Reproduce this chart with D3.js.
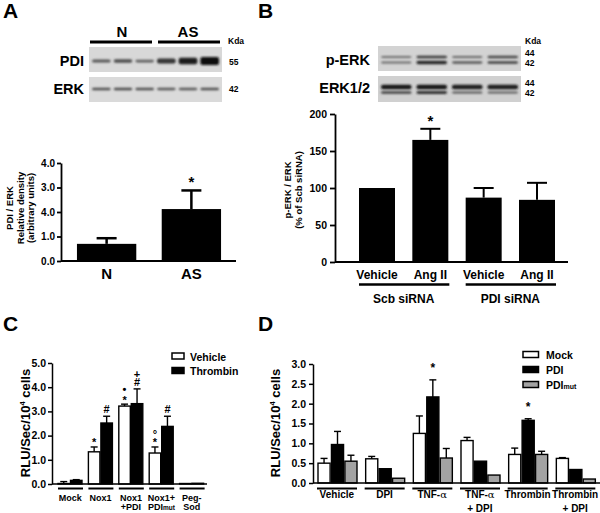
<!DOCTYPE html>
<html>
<head>
<meta charset="utf-8">
<script src="https://cdn.jsdelivr.net/npm/d3@7"></script>
<style>
body { margin: 0; background: #fff; }
svg text { font-family: "Liberation Sans", Arial, sans-serif; font-weight: bold; fill: #000; }
</style>
</head>
<body>
<svg id="fig" width="600" height="513"></svg>
<script>
// ---- panel A ----
var groupsA = ["N", "AS"];
var valuesA = [0.7, 2.12];
var errorsA = [0.93, 2.88];
var ticksA = [0, 1, 2, 3, 4];
var tickLabelsA = ["0.0", "1.0", "4.0", "3.0", "4.0"]; // printed that way in the figure
var pdiBandsA = [0.55, 0.6, 0.5, 0.75, 0.9, 1.0];
var erkBandsA = [0.6, 0.62, 0.6, 0.55, 0.55, 0.6];

// ---- panel B ----
var categoriesB = ["Vehicle", "Ang II", "Vehicle", "Ang II"];
var siRnaB = ["Scb siRNA", "PDI siRNA"];
var valuesB = [100, 165, 87, 84];
var errorsB = [100, 180, 100, 107];
var ticksB = [0, 50, 100, 150, 200];
var perk44B = [0.4, 0.75, 0.45, 0.65];
var perk42B = [0.45, 0.85, 0.55, 0.7];
var erk44B = [0.95, 0.95, 0.9, 0.9];
var erk42B = [0.7, 0.8, 0.6, 0.55];

// ---- panel C ----
var groupsC = [["Mock"], ["Nox1"], ["Nox1", "+PDI"], ["Nox1+", "PDI", "mut"], ["Peg-", "Sod"]];
var seriesC = ["Vehicle", "Thrombin"];
var vehicleC = [0.02, 1.33, 3.22, 1.28, 0.02];
var vehicleErrC = [0.1, 1.53, 3.3, 1.53, 0.03];
var thrombinC = [0.15, 2.52, 3.32, 2.38, 0.03];
var thrombinErrC = [0.18, 2.8, 3.93, 2.8, 0.04];
var vehicleMarksC = [[], ["*"], ["*", "\u2022"], ["*", "\u00b0"], []];
var thrombinMarksC = [[], ["#"], ["#", "+"], ["#"], []];
var ticksC = [0, 1, 2, 3, 4, 5];

// ---- panel D ----
var groupsD = [["Vehicle"], ["DPI"], ["TNF-", "\u03b1"], ["TNF-", "\u03b1", "+ DPI"], ["Thrombin"], ["Thrombin", "", "+ DPI"]];
var seriesD = ["Mock", "PDI", "PDImut"];
var mockD = [0.5, 0.61, 1.25, 1.07, 0.72, 0.62];
var mockErrD = [0.62, 0.67, 1.69, 1.15, 0.88, 0.64];
var pdiD = [0.97, 0.36, 2.17, 0.55, 1.58, 0.34];
var pdiErrD = [1.3, 0.37, 2.6, 0.56, 1.62, 0.34];
var pdimutD = [0.55, 0.12, 0.63, 0.2, 0.72, 0.1];
var pdimutErrD = [0.7, 0.12, 0.87, 0.2, 0.8, 0.1];
var pdiMarksD = [[], [], ["*"], [], ["*"], []];
var ticksD = [0, 0.5, 1, 1.5, 2, 2.5, 3];

var svg = d3.select("#fig");

svg.append("defs").append("filter").attr("id", "soft")
  .attr("x", "-20%").attr("y", "-80%").attr("width", "140%").attr("height", "260%")
  .append("feGaussianBlur").attr("stdDeviation", 0.8);

function label(x, y, txt, size, anchor) {
  return svg.append("text").attr("x", x).attr("y", y)
    .attr("font-size", size).attr("text-anchor", anchor || "start").text(txt);
}

function hline(x1, x2, y, w) {
  svg.append("line").attr("x1", x1).attr("x2", x2).attr("y1", y).attr("y2", y)
    .attr("stroke", "#000").attr("stroke-width", w);
}

function styleAxis(ax, size, w) {
  ax.select(".domain").attr("stroke-width", w);
  ax.selectAll(".tick line").attr("stroke-width", w);
  ax.selectAll(".tick text").attr("font-size", size);
}

// western blot strip: rows of band densities
function blot(x0, y0, w, h, bg, rows) {
  svg.append("rect").attr("x", x0).attr("y", y0).attr("width", w).attr("height", h).attr("fill", bg);
  var lane = d3.scaleBand().domain(d3.range(rows[0].v.length))
    .range([x0 + 3, x0 + w - 3]).paddingInner(0.14);
  var shade = d3.interpolateRgb("#b0b0b0", "#0c0c0c");
  rows.forEach(function(r) {
    svg.append("g").attr("filter", "url(#soft)")
      .selectAll("rect").data(r.v).join("rect")
      .attr("x", (d, i) => lane(i))
      .attr("width", lane.bandwidth())
      .attr("y", d => r.y - (r.h0 + r.h1 * d * d) / 2)
      .attr("height", d => r.h0 + r.h1 * d * d)
      .attr("rx", 2)
      .attr("fill", d => shade(d));
  });
}

function errBar(x, y0, y1, cap, w) {
  if (y0 - y1 < 0.5) return;
  svg.append("line").attr("x1", x).attr("x2", x).attr("y1", y0).attr("y2", y1)
    .attr("stroke", "#000").attr("stroke-width", w);
  hline(x - cap / 2, x + cap / 2, y1, w);
}

// panel letters
label(3, 18, "A", 21);
label(258, 18, "B", 21);
label(3, 331, "C", 21);
label(258, 331, "D", 21);

// ================= A =================
hline(90, 152, 42, 3);
hline(158, 220, 42, 3);
label(122, 37, "N", 15, "middle");
label(188, 37, "AS", 15, "middle");
label(228, 44, "Kda", 8.5);
blot(89, 47, 133, 25, "#d8d8d8", [{y: 61, v: pdiBandsA, h0: 1, h1: 7}]);
blot(89, 77, 133, 25, "#dadada", [{y: 89, v: erkBandsA, h0: 1.2, h1: 3.5}]);
label(84, 66, "PDI", 14.5, "end");
label(84, 94, "ERK", 14.5, "end");
label(229, 65, "55", 8.5);
label(229, 92, "42", 8.5);

var xA = d3.scaleBand().domain(groupsA).range([60, 238]).paddingInner(0.3).paddingOuter(0.2);
var yA = d3.scaleLinear().domain([0, 4]).range([261, 163]);

svg.append("g").selectAll("rect").data(valuesA).join("rect")
  .attr("x", (d, i) => xA(groupsA[i]))
  .attr("width", xA.bandwidth())
  .attr("y", d => yA(d))
  .attr("height", d => yA(0) - yA(d))
  .attr("fill", "#000");
valuesA.forEach(function(v, i) {
  errBar(xA(groupsA[i]) + xA.bandwidth() / 2, yA(v), yA(errorsA[i]), 20, 2.5);
});
label(xA("AS") + xA.bandwidth() / 2, yA(errorsA[1]) - 3, "*", 15, "middle");

var axA = svg.append("g").attr("transform", "translate(61,0)")
  .call(d3.axisLeft(yA).tickValues(ticksA).tickFormat((d, i) => tickLabelsA[i]).tickSize(4).tickSizeOuter(0).tickPadding(2));
styleAxis(axA, 10, 1.8);
hline(61, 236, yA(0), 2);
groupsA.forEach(function(g) {
  label(xA(g) + xA.bandwidth() / 2, 279, g, 15, "middle");
});
var ylA = svg.append("text").attr("transform", "translate(0,208) rotate(-90)")
  .attr("text-anchor", "middle").attr("font-size", 9.5);
ylA.append("tspan").attr("x", 0).attr("y", 12.5).text("PDI / ERK");
ylA.append("tspan").attr("x", 0).attr("y", 23.5).text("Relative density");
ylA.append("tspan").attr("x", 0).attr("y", 33.5).text("(arbitrary units)");

// ================= B =================
label(525, 44, "Kda", 8.5);
blot(378, 46, 143, 25, "#d3d3d3", [
  {y: 57, v: perk44B, h0: 1.5, h1: 2},
  {y: 62.5, v: perk42B, h0: 1.5, h1: 2.5}
]);
blot(378, 76, 143, 26, "#d0d0d0", [
  {y: 87, v: erk44B, h0: 2, h1: 3},
  {y: 92.5, v: erk42B, h0: 1.5, h1: 2}
]);
label(370, 65, "p-ERK", 14.5, "end");
label(370, 93, "ERK1/2", 14.5, "end");
label(525, 56, "44", 8.5);
label(525, 66, "42", 8.5);
label(525, 86, "44", 8.5);
label(525, 96, "42", 8.5);

var xB = d3.scaleBand().domain(d3.range(categoriesB.length)).range([343, 571]).paddingInner(0.325).paddingOuter(0.3);
var yB = d3.scaleLinear().domain([0, 200]).range([262, 114]);

svg.append("g").selectAll("rect").data(valuesB).join("rect")
  .attr("x", (d, i) => xB(i))
  .attr("width", xB.bandwidth())
  .attr("y", d => yB(d))
  .attr("height", d => yB(0) - yB(d))
  .attr("fill", "#000");
valuesB.forEach(function(v, i) {
  errBar(xB(i) + xB.bandwidth() / 2, yB(v), yB(errorsB[i]), 20, 2);
});
label(xB(1) + xB.bandwidth() / 2, yB(errorsB[1]) - 3, "*", 15, "middle");

var axB = svg.append("g").attr("transform", "translate(335,0)")
  .call(d3.axisLeft(yB).tickValues(ticksB).tickSize(5).tickSizeOuter(0).tickPadding(3));
styleAxis(axB, 10.5, 1.8);
hline(335, 568, yB(0), 2);
categoriesB.forEach(function(c, i) {
  label(xB(i) + xB.bandwidth() / 2, 279, c, 12, "middle");
});
siRnaB.forEach(function(s, k) {
  var a = xB(k * 2), b = xB(k * 2 + 1) + xB.bandwidth();
  hline(a, b + 1, 284.5, 2.5);
  label((a + b) / 2, 303, s, 12, "middle");
});
var ylB = svg.append("text").attr("transform", "translate(0,190) rotate(-90)")
  .attr("text-anchor", "middle").attr("font-size", 9.5);
ylB.append("tspan").attr("x", 0).attr("y", 291).text("p-ERK / ERK");
ylB.append("tspan").attr("x", 0).attr("y", 302).text("(% of Scb siRNA)");

// ========== grouped charts C and D ==========
function yLabel(x, y) {
  var t = svg.append("text").attr("transform", "translate(" + x + "," + y + ") rotate(-90)")
    .attr("text-anchor", "middle").attr("font-size", 13);
  t.append("tspan").text("RLU/Sec/10");
  t.append("tspan").attr("font-size", 7.5).attr("dy", -5).text("4");
  t.append("tspan").attr("dy", 5).text(" cells");
}

var markShift = {"*": 6.4, "#": 4, "+": 3.7, "\u2022": 3.5, "\u00b0": 6.4};

function marks(x, yTop, list, gap, size) {
  list.forEach(function(m, k) {
    var c = yTop - gap - k * 8;
    label(x, c + markShift[m], m, size, "middle");
  });
}

// ================= C =================
var xC = d3.scaleBand().domain(d3.range(groupsC.length)).range([55, 207]);
var xCi = d3.scaleBand().domain(seriesC).range([3, 27]).paddingInner(0.08);
var yC = d3.scaleLinear().domain([0, 5]).range([484, 363]);
var colsC = [
  {name: "Vehicle", v: vehicleC, e: vehicleErrC, m: vehicleMarksC, fill: "#fff"},
  {name: "Thrombin", v: thrombinC, e: thrombinErrC, m: thrombinMarksC, fill: "#000"}
];
colsC.forEach(function(s) {
  svg.append("g").selectAll("rect").data(s.v).join("rect")
    .attr("x", (d, i) => xC(i) + xCi(s.name))
    .attr("width", xCi.bandwidth())
    .attr("y", d => yC(d))
    .attr("height", d => yC(0) - yC(d))
    .attr("fill", s.fill).attr("stroke", "#000").attr("stroke-width", 1.4);
  s.v.forEach(function(v, i) {
    var cx = xC(i) + xCi(s.name) + xCi.bandwidth() / 2;
    errBar(cx, yC(v), yC(s.e[i]), 7, 1.4);
    marks(cx, yC(s.e[i]), s.m[i], 7, 11);
  });
});
var axC = svg.append("g").attr("transform", "translate(52,0)")
  .call(d3.axisLeft(yC).tickValues(ticksC).tickFormat(d3.format(".1f")).tickSize(4).tickSizeOuter(0).tickPadding(2));
styleAxis(axC, 10.5, 1.5);
hline(52, 207, yC(0), 1.5);
groupsC.forEach(function(g, i) {
  var cx = xC(i) + xC.bandwidth() / 2;
  hline(xC(i) + 3, xC(i) + 28, 488.5, 2);
  label(cx, 500.5, g[0], 9, "middle");
  if (g.length === 3) {
    var t = label(cx, 509.5, "", 9, "middle");
    t.append("tspan").text(g[1]);
    t.append("tspan").attr("font-size", 6.5).text(g[2]);
  } else if (g[1]) {
    label(cx, 509.5, g[1], 9, "middle");
  }
});
yLabel(30, 423);
colsC.forEach(function(s, k) {
  svg.append("rect").attr("x", 172).attr("y", 353 + k * 14.5).attr("width", 12).attr("height", 6)
    .attr("fill", s.fill).attr("stroke", "#000").attr("stroke-width", 1.5);
  label(190, 360.5 + k * 14.5, s.name, 10.5);
});

// ================= D =================
var xD = d3.scaleBand().domain(d3.range(groupsD.length)).range([313, 599]);
var xDi = d3.scaleBand().domain(seriesD).range([5, 44]).paddingInner(0.1);
var yD = d3.scaleLinear().domain([0, 3]).range([483, 364]);
var colsD = [
  {name: "Mock", v: mockD, e: mockErrD, m: null, fill: "#fff"},
  {name: "PDImut", v: pdimutD, e: pdimutErrD, m: null, fill: "#a3a3a3"},
  {name: "PDI", v: pdiD, e: pdiErrD, m: pdiMarksD, fill: "#000"}
];
colsD.forEach(function(s) {
  svg.append("g").selectAll("rect").data(s.v).join("rect")
    .attr("x", (d, i) => xD(i) + xDi(s.name))
    .attr("width", xDi.bandwidth())
    .attr("y", d => yD(d))
    .attr("height", d => yD(0) - yD(d))
    .attr("fill", s.fill).attr("stroke", "#000").attr("stroke-width", 1.4);
  s.v.forEach(function(v, i) {
    var cx = xD(i) + xDi(s.name) + xDi.bandwidth() / 2;
    errBar(cx, yD(v), yD(s.e[i]), 7, 1.4);
    if (s.m) marks(cx, yD(s.e[i]), s.m[i], 14, 12);
  });
});
var axD = svg.append("g").attr("transform", "translate(313,0)")
  .call(d3.axisLeft(yD).tickValues(ticksD).tickFormat(d3.format(".1f")).tickSize(4).tickSizeOuter(0).tickPadding(3));
styleAxis(axD, 10.5, 1.5);
hline(313, 600, yD(0), 1.5);
groupsD.forEach(function(g, i) {
  var cx = xD(i) + xD.bandwidth() / 2;
  hline(xD(i) + 4, xD(i) + 44, 488.5, 2);
  var t = label(cx, 498, "", 10, "middle");
  t.append("tspan").text(g[0]);
  if (g[1]) t.append("tspan").attr("font-family", "DejaVu Serif").attr("font-weight", "normal").text(g[1]);
  if (g[2]) label(cx, 511.5, g[2], 10, "middle");
});
yLabel(280, 423);
var legD = [
  {name: "Mock", fill: "#fff"},
  {name: "PDI", fill: "#000"},
  {name: "PDImut", fill: "#a3a3a3"}
];
legD.forEach(function(s, k) {
  svg.append("rect").attr("x", 523).attr("y", 351.5 + k * 15).attr("width", 15.5).attr("height", 6)
    .attr("fill", s.fill).attr("stroke", "#000").attr("stroke-width", 1.5);
  var t = label(546, 358.5 + k * 15, "", 10.5);
  if (s.name === "PDImut") {
    t.append("tspan").text("PDI");
    t.append("tspan").attr("font-size", 7).text("mut");
  } else {
    t.text(s.name);
  }
});
</script>
</body>
</html>
